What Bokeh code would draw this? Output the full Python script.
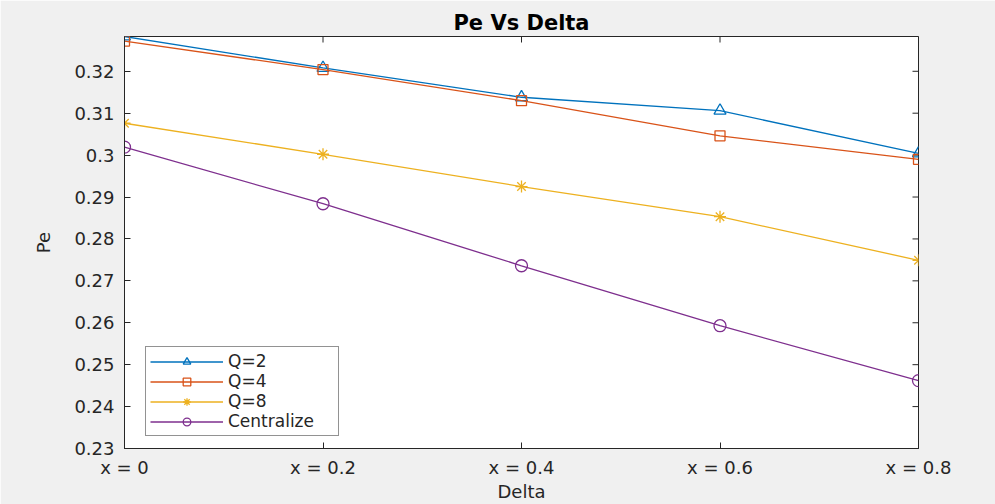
import math
from bokeh.plotting import figure
from bokeh.models import Range1d, FixedTicker, Legend, LegendItem
from bokeh.embed import file_html
from bokeh.resources import INLINE

# ---- data ----
delta = [0.0, 0.2, 0.4, 0.6, 0.8]
x_tick_labels = ["x = 0", "x = 0.2", "x = 0.4", "x = 0.6", "x = 0.8"]
q2 = [0.3283, 0.3208, 0.3138, 0.3106, 0.3004]
q4 = [0.3272, 0.3204, 0.3130, 0.3046, 0.2990]
q8 = [0.3076, 0.3002, 0.2925, 0.2853, 0.2749]
centralize = [0.3019, 0.2884, 0.2736, 0.2593, 0.2462]
y_ticks = [0.23, 0.24, 0.25, 0.26, 0.27, 0.28, 0.29, 0.30, 0.31, 0.32]
y_tick_labels = ["0.23", "0.24", "0.25", "0.26", "0.27", "0.28", "0.29", "0.3", "0.31", "0.32"]
y_min, y_max = 0.23, 0.3283
x_min, x_max = 0.0, 0.8

FONT = "DejaVu Sans"
INK = "#262626"

p = figure(width=995, height=504, output_backend="svg", toolbar_location=None,
           x_range=Range1d(x_min, x_max), y_range=Range1d(y_min, y_max),
           min_border_left=124, min_border_right=77, min_border_top=36,
           min_border_bottom=56, background_fill_color="white",
           border_fill_color="#f0f0f0", x_axis_label="Delta", y_axis_label="Pe")

p.title.text = "Pe Vs Delta"
p.title.align = "center"
p.title.text_font = FONT
p.title.text_font_style = "bold"
p.title.text_font_size = "21px"
p.title.text_color = "black"
p.title.standoff = 4

p.xgrid.visible = False
p.ygrid.visible = False
p.outline_line_color = INK
p.outline_line_width = 1

p.xaxis[0].ticker = FixedTicker(ticks=delta)
p.xaxis[0].major_label_overrides = {d: t for d, t in zip(delta, x_tick_labels)}
p.yaxis[0].ticker = FixedTicker(ticks=y_ticks)
p.yaxis[0].major_label_overrides = {v: t for v, t in zip(y_ticks, y_tick_labels)}

for ax in [p.xaxis[0], p.yaxis[0]]:
    ax.major_tick_in = 6
    ax.major_tick_out = 0
    ax.minor_tick_in = 0
    ax.minor_tick_out = 0
    ax.axis_line_color = INK
    ax.major_tick_line_color = INK
    ax.major_label_text_font = FONT
    ax.major_label_text_font_size = "18px"
    ax.major_label_text_color = INK
    ax.axis_label_text_font = FONT
    ax.axis_label_text_font_size = "18px"
    ax.axis_label_text_font_style = "normal"
    ax.axis_label_text_color = INK
p.xaxis[0].major_label_standoff = 8
p.xaxis[0].axis_label_standoff = 0
p.yaxis[0].major_label_standoff = 10
p.yaxis[0].axis_label_standoff = 17

# inward tick marks on the top and right edges of the box (half of each dash is clipped)
p.scatter([x_max] * len(y_ticks), y_ticks, marker="dash", size=12, line_color=INK, line_width=1)
p.scatter(delta, [y_max] * len(delta), marker="dash", size=12, angle=math.pi / 2,
          line_color=INK, line_width=1)

series = [
    ("Q=2", q2, "#0072BD", "triangle", 12),
    ("Q=4", q4, "#D95319", "square", 10),
    ("Q=8", q8, "#EDB120", "asterisk", 12),
    ("Centralize", centralize, "#7E2F8E", "circle", 12),
]
items = []
for name, ys, color, marker, size in series:
    l = p.line(delta, ys, line_color=color, line_width=1.3)
    s = p.scatter(delta, ys, marker=marker, size=size, line_color=color,
                  fill_color=None, line_width=1.3)
    items.append(LegendItem(label=name, renderers=[l, s]))

legend = Legend(items=items, location=(21, 12), orientation="vertical",
                label_text_font=FONT, label_text_font_size="17px",
                label_text_color=INK, glyph_width=73, glyph_height=19,
                label_height=19, label_width=106, spacing=0, padding=4, margin=0,
                label_standoff=5, border_line_color=INK, border_line_width=1,
                background_fill_color="white", background_fill_alpha=1.0)
p.add_layout(legend, "center")

open("out.html", "w").write(file_html(p, INLINE))
